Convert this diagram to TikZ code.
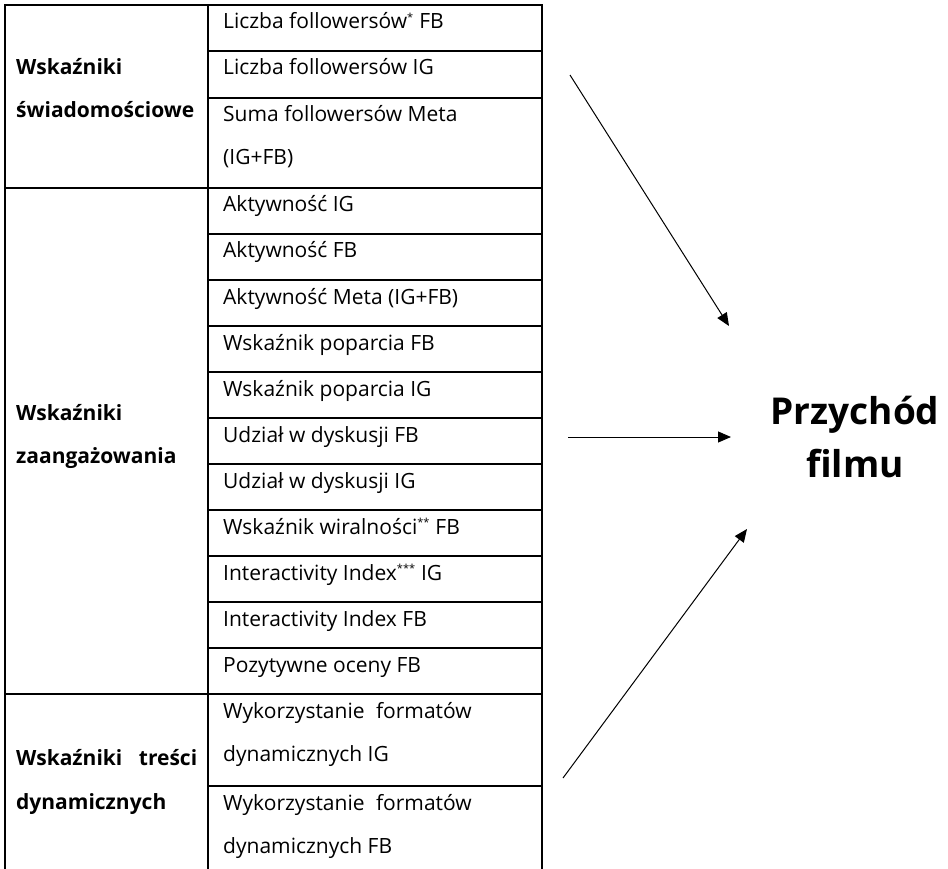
\documentclass[tikz,border=0pt]{standalone}
\usepackage{fontspec}
\setmainfont{Open Sans}
\usetikzlibrary{arrows.meta}
\newcommand{\footmark}[1]{\textsuperscript{\fontsize{11}{11}\selectfont #1}}
\begin{document}
\begin{tikzpicture}[x=1pt,y=-1pt,
  grid/.style={line width=1.5pt, line cap=rect},
  cell/.style={anchor=base west, inner sep=0pt, font=\fontsize{21}{21}\selectfont},
  lab/.style={anchor=base west, inner sep=0pt, font=\fontsize{21}{21}\selectfont\bfseries},
  big/.style={align=center, inner sep=0pt, font=\fontsize{37}{53}\selectfont\bfseries},
  conn/.style={line width=1pt, -{Triangle[length=13pt,width=11pt]}},
]
\useasboundingbox (0,0) rectangle (948,869);
% table frame
\draw[grid] (5,869) -- (5,5) -- (542,5) -- (542,869);
\draw[grid] (208,5) -- (208,869);
\draw[grid] (5,188) -- (542,188);
\draw[grid] (5,694) -- (542,694);
\foreach \yy in {51,98,234,280,326,372,418,464,510,556,602,648,786}
  \draw[grid] (208,\yy) -- (542,\yy);
% group labels
\node[lab] (g1a) at (16,75) {Wskaźniki};
\node[lab] (g1b) at (16,118) {świadomościowe};
\node[lab] (g2a) at (16,420) {Wskaźniki};
\node[lab] (g2b) at (16,463) {zaangażowania};
\node[lab] (g3a) at (16,765) {\makebox[181pt][s]{Wskaźniki\hfill treści}};
\node[lab] (g3b) at (16,809) {dynamicznych};
% cells
\node[cell] (c1) at (223,29) {Liczba followersów\footmark{*} FB};
\node[cell] (c2) at (223,75) {Liczba followersów IG};
\node[cell] (c3a) at (223,122) {Suma followersów Meta};
\node[cell] (c3b) at (223,165) {(IG+FB)};
\node[cell] (c4) at (223,212) {Aktywność IG};
\node[cell] (c5) at (223,258) {Aktywność FB};
\node[cell] (c6) at (223,304) {Aktywność Meta (IG+FB)};
\node[cell] (c7) at (223,350) {Wskaźnik poparcia FB};
\node[cell] (c8) at (223,396) {Wskaźnik poparcia IG};
\node[cell] (c9) at (223,442) {Udział w dyskusji FB};
\node[cell] (c10) at (223,488) {Udział w dyskusji IG};
\node[cell] (c11) at (223,534) {Wskaźnik wiralności\footmark{**} FB};
\node[cell] (c12) at (223,580) {Interactivity Index\footmark{***} IG};
\node[cell] (c13) at (223,626) {Interactivity Index FB};
\node[cell] (c14) at (223,672) {Pozytywne oceny FB};
\node[cell] (c15a) at (223,718) {Wykorzystanie\hspace{0.55em}formatów};
\node[cell] (c15b) at (223,761) {dynamicznych IG};
\node[cell] (c16a) at (223,810) {Wykorzystanie\hspace{0.55em}formatów};
\node[cell] (c16b) at (223,853) {dynamicznych FB};
% target
\node[big] (P) at (855,437) {Przychód\\filmu};
% connectors
\coordinate (s1) at (570,75);
\coordinate (e1) at (729,326);
\coordinate (s2) at (568,437);
\coordinate (e2) at (731,437);
\coordinate (s3) at (563,778);
\coordinate (e3) at (747,529);
\draw[conn] (s1) -- (e1);
\draw[conn] (s2) -- (e2);
\draw[conn] (s3) -- (e3);
\end{tikzpicture}
\end{document}
